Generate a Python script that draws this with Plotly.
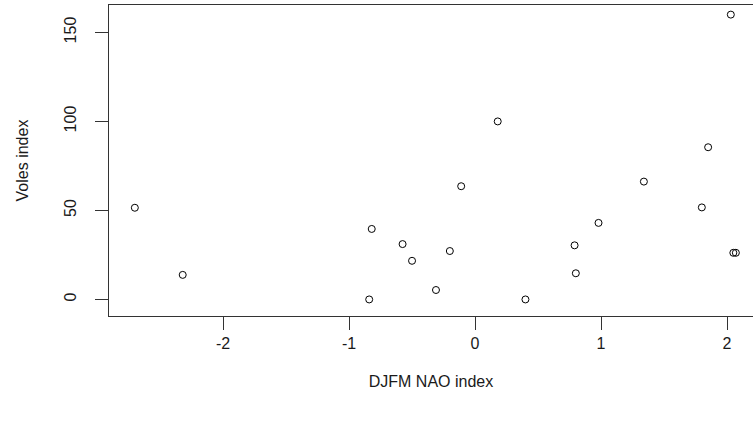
import plotly.graph_objects as go

nao_index = [-2.70, -2.32, -0.82, -0.84, -0.575, -0.50, -0.20, -0.31, 0.40, 0.79,
             0.80, 0.98, 1.80, 2.05, 2.07, 0.18, 1.85, -0.11, 1.34, 2.03]
voles_index = [51.5, 13.8, 39.6, 0.0, 31.1, 21.7, 27.2, 5.3, 0.0, 30.4,
               14.7, 43.0, 51.7, 26.2, 26.2, 100.0, 85.5, 63.6, 66.2, 160.0]
x_ticks = [-2, -1, 0, 1, 2]
y_ticks = [0, 50, 100, 150]

FONT = "Liberation Sans, Arial, sans-serif"

fig = go.Figure(go.Scatter(
    x=nao_index, y=voles_index, mode="markers",
    marker=dict(symbol="circle-open", size=7, color="black", line=dict(width=1, color="black")),
    showlegend=False,
))

fig.update_layout(
    width=753, height=422,
    margin=dict(l=109, r=0, t=5, b=106),
    paper_bgcolor="white", plot_bgcolor="white",
    font=dict(family=FONT, size=16, color="#1a1a1a"),
    xaxis=dict(
        range=[-2.905, 2.206], tickvals=x_ticks, ticktext=[str(v) for v in x_ticks],
        showgrid=False, zeroline=False, showline=True, mirror=True,
        linecolor="#333", linewidth=1, ticks="outside", ticklen=13, tickcolor="#333",
        tickfont=dict(size=16),
        title=dict(text="DJFM NAO index", font=dict(size=16), standoff=24),
    ),
    yaxis=dict(
        range=[-9.3, 165.4], tickvals=y_ticks, ticktext=[str(v) for v in y_ticks],
        showgrid=False, zeroline=False, showline=True, mirror=False,
        linecolor="#333", linewidth=1, ticks="outside", ticklen=13, tickcolor="#333",
        tickangle=-90, tickfont=dict(size=16), ticklabelstandoff=13,
        title=dict(text="Voles index", font=dict(size=16), standoff=28),
    ),
)

fig.write_html("out.html")
